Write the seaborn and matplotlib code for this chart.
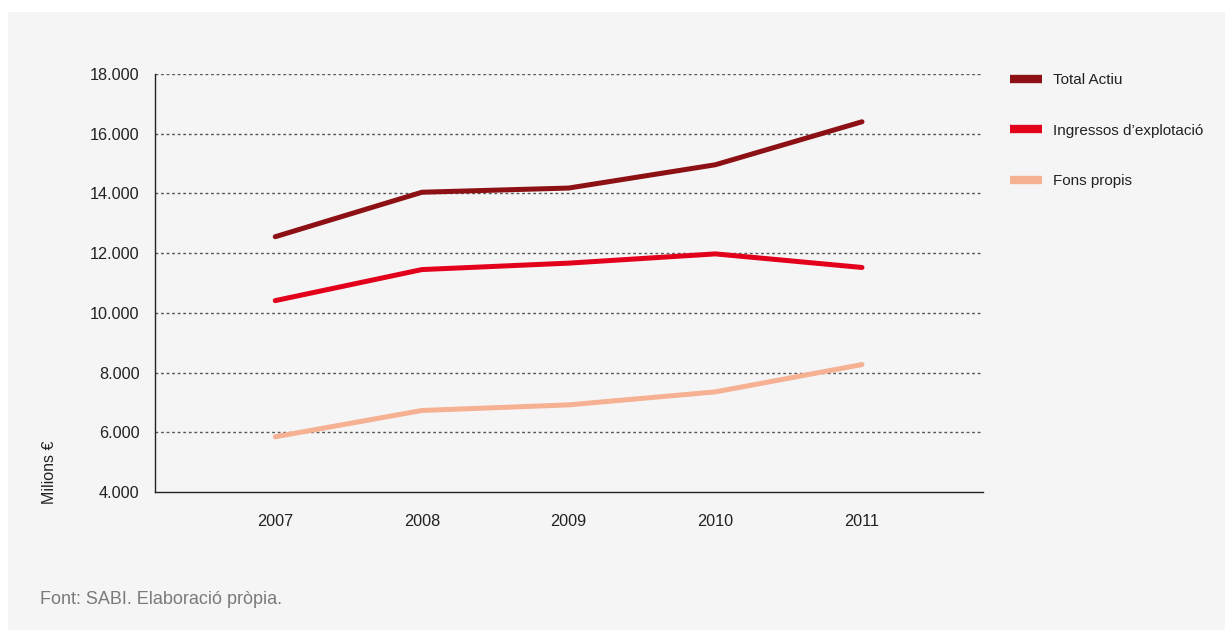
import matplotlib
matplotlib.use("Agg")
import matplotlib.pyplot as plt
from matplotlib.ticker import FuncFormatter
from matplotlib.patches import Rectangle
from matplotlib.lines import Line2D
import seaborn as sns
import pandas as pd

years = [2007, 2008, 2009, 2010, 2011]
total_actiu = [12550, 14040, 14180, 14960, 16400]
ingressos = [10410, 11450, 11665, 11975, 11520]
fons_propis = [5850, 6730, 6918, 7353, 8268]

series_names = ["Total Actiu", "Ingressos d\u2019explotació", "Fons propis"]
colors = ["#8c1014", "#e3001b", "#f6b092"]
y_ticks = [4000, 6000, 8000, 10000, 12000, 14000, 16000, 18000]

df = pd.DataFrame({
    "any": years * 3,
    "valor": total_actiu + ingressos + fons_propis,
    "serie": sum([[n] * len(years) for n in series_names], []),
})

sns.set_theme(style="white")
plt.rcParams["font.family"] = ["Liberation Sans", "DejaVu Sans"]

fig = plt.figure(figsize=(12.25, 6.3), dpi=100)
fig.patch.set_facecolor("white")
fig.add_artist(Rectangle((8 / 1225, 0), 1 - 8 / 1225, 1 - 12 / 630,
                         transform=fig.transFigure, facecolor="#f5f5f5",
                         edgecolor="none", zorder=-10))

ax = fig.add_axes([155 / 1225, 1 - 492 / 630, (983 - 155) / 1225, (492 - 74) / 630])
ax.set_facecolor("none")

sns.lineplot(data=df, x="any", y="valor", hue="serie", hue_order=series_names,
             palette=colors, linewidth=3.6, ax=ax, legend=False,
             solid_capstyle="round", solid_joinstyle="round")

ax.set_xlim(2006.18, 2011.825)
ax.set_ylim(4000, 18000)
ax.set_xticks(years)
ax.set_xticklabels([str(y) for y in years])
ax.set_yticks(y_ticks)
ax.yaxis.set_major_formatter(FuncFormatter(lambda v, p: f"{v:,.0f}".replace(",", ".")))
ax.tick_params(axis="x", length=0, pad=15.5, labelsize=11.7, labelcolor="#222222")
ax.tick_params(axis="y", length=0, pad=11, labelsize=11.7, labelcolor="#222222")
ax.set_xlabel("")
ax.set_ylabel("")

for y in y_ticks[1:]:
    ax.axhline(y, color="#555555", linewidth=1, linestyle=(0, (2, 2)), zorder=0)

for s in ["top", "right"]:
    ax.spines[s].set_visible(False)
for s in ["left", "bottom"]:
    ax.spines[s].set_color("#222222")
    ax.spines[s].set_linewidth(1)

handles = [Line2D([], [], color=c, linewidth=6, solid_capstyle="butt") for c in colors]
fig.legend(handles, series_names, loc="upper left",
           bbox_to_anchor=(1010 / 1225, 1 - 73 / 630), frameon=False,
           fontsize=11, handlelength=2.1, handletextpad=0.7,
           labelspacing=2.4, borderpad=0, borderaxespad=0,
           labelcolor="#222222")

fig.text(50 / 1225, 1 - 472 / 630, "Milions \u20ac", rotation=90,
         ha="center", va="center", fontsize=11.5, color="#222222")
fig.text(40 / 1225, 1 - 600 / 630, "Font: SABI. Elaboració pròpia.",
         ha="left", va="center", fontsize=13, color="#7a7a7a")

fig.savefig("out.png", dpi=100, facecolor=fig.get_facecolor())
